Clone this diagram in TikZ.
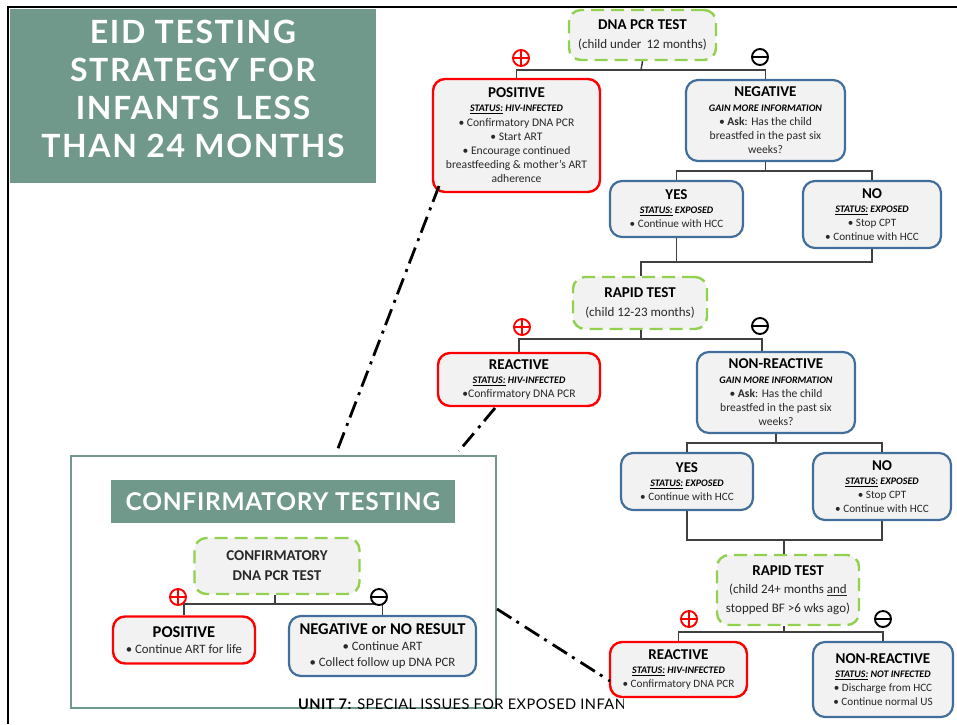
\documentclass[tikz,border=0pt]{standalone}
\usepackage{fontspec}
\setmainfont{Carlito}
\newfontfamily\gillish{Lato}[LetterSpace=5]
\newfontfamily\gillnarrow{Lato}[LetterSpace=3]
\usetikzlibrary{calc}

\definecolor{titlegreen}{RGB}{112,153,139}
\definecolor{posred}{RGB}{255,0,0}
\definecolor{negblue}{RGB}{65,110,155}
\definecolor{testgreen}{RGB}{146,208,80}
\definecolor{boxfill}{RGB}{242,242,242}
\definecolor{conncol}{RGB}{64,64,64}
\definecolor{bodytxt}{RGB}{40,40,40}

% text styles used inside the boxes
\newcommand{\eidHead}{\fontsize{15}{17}\selectfont\bfseries\color{black}}
\newcommand{\eidBigHead}{\fontsize{16.5}{19}\selectfont\bfseries\color{black}}
\newcommand{\eidStat}{\fontsize{10}{12}\selectfont\bfseries\itshape\color{black}}

\tikzset{
  eidbox/.style={rounded corners=12pt, fill=boxfill, align=center, inner sep=0pt, text=bodytxt},
  posbox/.style={eidbox, draw=posred, line width=2.4pt},
  negbox/.style={eidbox, draw=negblue, line width=2.2pt},
  testbox/.style={eidbox, draw=testgreen, line width=2.4pt, dash pattern=on 13pt off 7pt,
    font=\fontsize{13}{18.3}\selectfont},
  treebody/.style={font=\fontsize{11.6}{14.2}\selectfont},
  smallbody/.style={font=\fontsize{11.2}{14}\selectfont},
  confbody/.style={font=\fontsize{12.8}{16}\selectfont},
  sz/.style 2 args={minimum width=#1pt, minimum height=#2pt},
  conn/.style={draw=conncol, line width=1.5pt},
  linkline/.style={draw=black, line width=2.8pt, dash pattern=on 17pt off 6pt on 3pt off 7pt},
  plusmark/.style={circle, draw=posred, fill=white, line width=1.9pt, minimum size=16pt, inner sep=0pt,
    path picture={\draw[posred, line width=1.9pt]
      (path picture bounding box.north) -- (path picture bounding box.south)
      (path picture bounding box.west) -- (path picture bounding box.east);}},
  minusmark/.style={circle, draw=black, fill=white, line width=1.9pt, minimum size=16pt, inner sep=0pt,
    path picture={\draw[black, line width=1.9pt]
      (path picture bounding box.west) -- (path picture bounding box.east);}},
  panel/.style={fill=titlegreen, inner sep=0pt, text=white, align=center}
}

\begin{document}
\begin{tikzpicture}[x=1pt, y=-1pt]
\useasboundingbox (0,0) rectangle (957,724);

% slide frame
\draw[line width=2.6pt] (8,724) -- (8,7) -- (957,7);

% title panel
\node[panel, sz={366}{174}] (titlepanel) at (193,96) {};
\node[text=white, align=center, font={\gillish\bfseries\fontsize{32}{38}\selectfont}]
  (title) at (193,89) {EID TESTING\\STRATEGY FOR\\INFANTS\hspace{0.5em}LESS\\THAN 24 MONTHS};

% ---------- under 12 months ----------
\node[testbox, sz={147}{50}] (dna) at (642.5,35)
  {{\eidHead DNA PCR TEST}\\(child under\, 12 months)};
\node[posbox, sz={167}{113}, treebody] (pos) at (516.5,135.5)
  {{\eidHead POSITIVE}\\{\eidStat\underline{STATUS:} HIV-INFECTED}\\• Confirmatory DNA PCR\\• Start ART\\• Encourage continued\\breastfeeding \& mother’s ART\\adherence};
\node[negbox, sz={159}{81}, treebody] (neg) at (765.5,120.5)
  {{\eidHead NEGATIVE}\\{\eidStat GAIN MORE INFORMATION}\\• \textbf{Ask}: Has the child\\breastfed in the past six\\weeks?};
\node[negbox, sz={133}{56}, smallbody] (yesa) at (676.5,209)
  {{\eidHead YES}\\{\eidStat\underline{STATUS:} EXPOSED}\\• Continue with HCC};
\node[negbox, sz={138}{67}, smallbody] (noa) at (872,214.5)
  {{\eidHead NO}\\{\eidStat\underline{STATUS:} EXPOSED}\\• Stop CPT\\• Continue with HCC};

% ---------- 12-23 months ----------
\node[testbox, sz={134}{52}] (rapida) at (640,303)
  {{\eidHead RAPID TEST}\\(child 12-23 months)};
\node[posbox, sz={162}{53}, treebody] (reaca) at (519,379.5)
  {{\eidHead REACTIVE}\\{\eidStat\underline{STATUS:} HIV-INFECTED}\\•Confirmatory DNA PCR};
\node[negbox, sz={158}{81}, treebody] (nonra) at (776,392.5)
  {{\eidHead NON-REACTIVE}\\{\eidStat GAIN MORE INFORMATION}\\• \textbf{Ask}: Has the child\\breastfed in the past six\\weeks?};
\node[negbox, sz={132}{57}, smallbody] (yesb) at (687,481.5)
  {{\eidHead YES}\\{\eidStat\underline{STATUS:} EXPOSED}\\• Continue with HCC};
\node[negbox, sz={138}{67}, smallbody] (nob) at (882,486.5)
  {{\eidHead NO}\\{\eidStat\underline{STATUS:} EXPOSED}\\• Stop CPT\\• Continue with HCC};

% ---------- 24+ months ----------
\node[testbox, sz={142}{70}] (rapidb) at (788,590)
  {{\eidHead RAPID TEST}\\(child 24+ months \underline{and}\\stopped BF >6 wks ago)};
\node[posbox, sz={137}{55}, smallbody] (reacb) at (678.5,669.5)
  {{\eidHead REACTIVE}\\{\eidStat\underline{STATUS:} HIV-INFECTED}\\• Confirmatory DNA PCR};
\node[negbox, sz={140}{75}, smallbody] (nonrb) at (883,679.5)
  {{\eidHead NON-REACTIVE}\\{\eidStat\underline{STATUS:} NOT INFECTED}\\• Discharge from HCC\\• Continue normal US};

% tree connectors
\coordinate (busa) at (641,70);
\draw[conn] (dna.south) -- (busa);
\draw[conn] (pos.north) |- (busa) -| (neg.north);
\coordinate (busb) at (765.5,171);
\draw[conn] (neg.south) -- (busb);
\draw[conn] (yesa.north) |- (busb) -| (noa.north);
\coordinate (joina) at (641,262);
\draw[conn] (yesa.south) -- (yesa.south |- joina);
\draw[conn] (noa.south) |- (joina) -- (rapida.north -| joina);

\coordinate (busc) at (641,339);
\coordinate (dropc) at (762,339);
\draw[conn] (rapida.south -| busc) -- (busc);
\draw[conn] (reaca.north) |- (busc) -- (dropc) -- (dropc |- nonra.north);
\coordinate (busd) at (776,443);
\draw[conn] (nonra.south) -- (busd);
\draw[conn] (yesb.north) |- (busd) -| (nob.north);
\coordinate (joinb) at (784,540);
\draw[conn] (yesb.south) |- (joinb) -| (nob.south);
\draw[conn] (joinb) -- (joinb |- rapidb.north);

\coordinate (buse) at (784,632);
\draw[conn] (rapidb.south -| buse) -- (buse);
\draw[conn] (reacb.north) |- (buse) -| (nonrb.north);

% result signs
\node[plusmark] (pa) at (521,58) {};
\node[minusmark] (ma) at (760,57) {};
\node[plusmark] (pb) at (522,327) {};
\node[minusmark] (mb) at (760,326) {};
\node[plusmark] (pc) at (689,619) {};
\node[minusmark] (mc) at (883,619) {};

% ---------- confirmatory testing panel ----------
\node[draw=titlegreen, line width=2pt, sz={425}{252}, inner sep=0pt] (conf) at (283.5,582) {};
\node[panel, sz={344}{43}, font={\gillnarrow\bfseries\fontsize{24.5}{28}\selectfont}] (conftitle) at (283,501.5)
  {CONFIRMATORY TESTING};
\node[testbox, sz={165}{56}, font=\fontsize{15}{20}\selectfont\bfseries\color{black}] (ctest) at (277,566)
  {CONFIRMATORY\\DNA PCR TEST};
\node[posbox, sz={142}{47}, confbody] (cpos) at (184,640)
  {{\eidBigHead POSITIVE}\\• Continue ART for life};
\node[negbox, sz={187}{60}, confbody] (cneg) at (382.5,646)
  {{\eidBigHead NEGATIVE or NO RESULT}\\• Continue ART\\• Collect follow up DNA PCR};
\coordinate (busf) at (275,604);
\draw[conn] (ctest.south -| busf) -- (busf);
\draw[conn] (cpos.north) |- (busf) -| (cneg.north);
\node[plusmark] (pd) at (178,597) {};
\node[minusmark] (md) at (379,597) {};

% dash-dot links to the confirmatory panel
\coordinate (la) at (439,186);
\coordinate (lb) at (337,451);
\coordinate (lc) at (495,408);
\coordinate (ld) at (459,451);
\coordinate (le) at (497,609);
\coordinate (lf) at (610,681);
\draw[linkline] (la) -- (lb);
\draw[linkline] (lc) -- (ld);
\draw[linkline] (le) -- (lf);

% footer, cut off by the slide edge
\begin{scope}
  \clip (280,697) rectangle (623,720);
  \node[anchor=base west, inner sep=0pt, font={\gillnarrow\fontsize{14.6}{17}\selectfont}, text=black] (footer) at (298,709)
    {\textbf{UNIT 7:} SPECIAL ISSUES FOR EXPOSED INFANTS};
\end{scope}
\end{tikzpicture}
\end{document}
